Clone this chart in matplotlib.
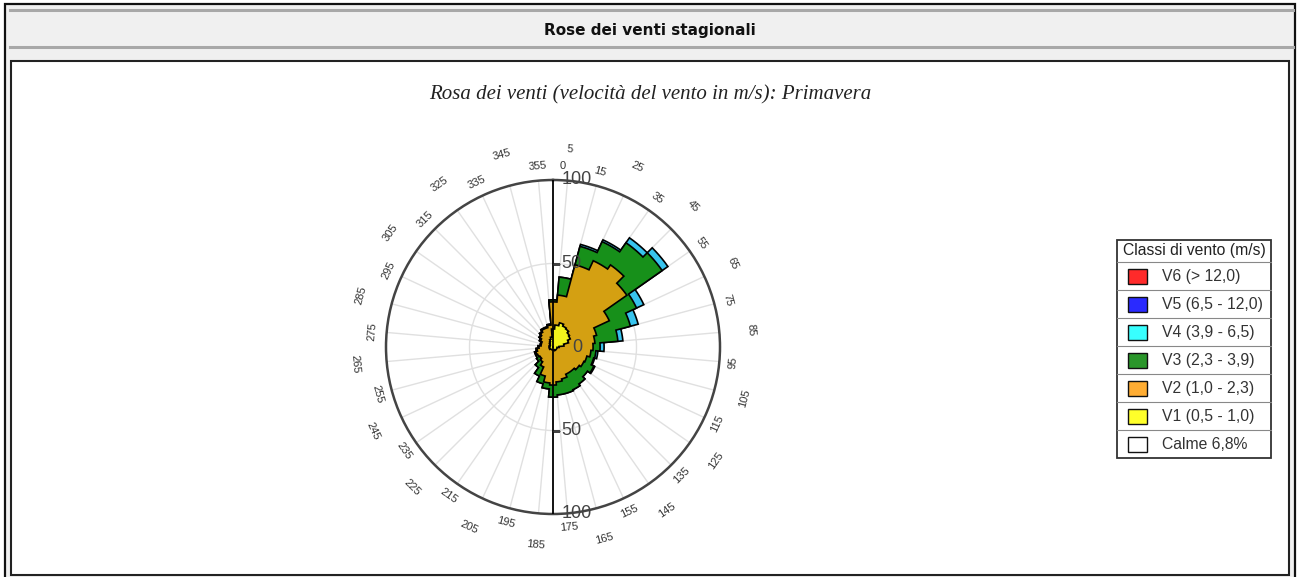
import numpy as np
import matplotlib

matplotlib.use("Agg")
import matplotlib.pyplot as plt
from matplotlib.patches import Rectangle

# sector centres (deg, clockwise from north) and class frequencies per sector
DIRS = np.arange(0, 360, 10)
V1 = [10.8, 13.2, 15.0, 13.8, 13.2, 12.0, 11.4, 9.6, 6.6, 3.6, 2.4, 2.4,
      2.4, 2.4, 2.4, 2.4, 1.8, 1.8, 1.8, 1.8, 1.8, 1.8, 1.8, 1.8,
      2.4, 2.4, 2.4, 2.4, 1.8, 1.8, 2.4, 2.4, 3.0, 3.6, 4.8, 6.0]
V2 = [16.2, 18.0, 36.0, 43.2, 46.8, 42.0, 25.8, 17.4, 18.6, 20.4, 20.4, 18.6,
      18.0, 16.8, 15.6, 15.6, 18.0, 19.2, 21.0, 19.8, 16.2, 11.4, 9.0, 7.8,
      7.8, 8.4, 7.2, 6.0, 5.4, 5.4, 6.0, 7.2, 7.8, 8.4, 7.2, 7.2]
V3 = [1.2, 10.8, 11.4, 12.6, 16.2, 25.8, 18.0, 21.0, 13.8, 4.2, 3.0, 4.2,
      6.6, 6.0, 9.0, 10.2, 9.0, 7.8, 7.2, 3.6, 4.8, 6.0, 4.2, 2.4,
      1.2, 0.6, 0.6, 0.6, 0.6, 0.6, 0.6, 0.6, 0.6, 0.6, 0.6, 0.6]
V4 = [0.0, 0.0, 1.2, 1.2, 3.6, 4.2, 4.8, 4.8, 3.0, 2.4, 1.2, 0.6,
      0.6, 0.0, 0.0, 0.0, 0.0, 0.0, 0.0, 0.0, 0.0, 0.0, 0.0, 0.0,
      0.0, 0.0, 0.0, 0.0, 0.0, 0.0, 0.0, 0.0, 0.0, 0.0, 0.0, 0.0]

ROSE_COLORS = ["#f2f21c", "#d4a012", "#17901a", "#38c4ee"]

LEGEND_TITLE = "Classi di vento (m/s)"
LEGEND_LABELS = ["V6 (> 12,0)", "V5 (6,5 - 12,0)", "V4 (3,9 - 6,5)",
                 "V3 (2,3 - 3,9)", "V2 (1,0 - 2,3)", "V1 (0,5 - 1,0)",
                 "Calme 6,8%"]
LEGEND_COLORS = ["#ff2a2a", "#2a2aff", "#38ffff", "#2a962a", "#ffad33",
                 "#ffff2a", "#ffffff"]

COMPASS = np.arange(5, 360, 10)
RADIAL_TICKS = [(0, 100, "100"), (0, 50, "50"), (0, 0, "0"),
                (180, 50, "50"), (180, 100, "100")]

HEADER = "Rose dei venti stagionali"
TITLE = "Rosa dei venti (velocità del vento in m/s): Primavera"

W, H = 1301, 577
fig = plt.figure(figsize=(W / 100, H / 100), dpi=100)

# page frame drawn in pixel coordinates
bg = fig.add_axes([0, 0, 1, 1])
bg.set_xlim(0, W)
bg.set_ylim(H, 0)
bg.axis("off")
bg.add_patch(Rectangle((5, 4), 1290, 590, facecolor="#f0f0f0",
                       edgecolor="#111111", lw=1.6))
bg.plot([10, 1293], [10, 10], color="#a8a8a8", lw=2.2)
bg.plot([10, 1293], [47, 47], color="#a8a8a8", lw=2.2)
bg.add_patch(Rectangle((11, 61), 1278, 514, facecolor="white",
                       edgecolor="#222222", lw=1.5))
bg.text(650, 30, HEADER, ha="center", va="center", fontsize=11,
        fontweight="bold", family="DejaVu Sans", color="#111111")
bg.text(650, 95, TITLE, ha="center", va="center", fontsize=15,
        style="italic", family="Liberation Serif", color="#222222")

# legend
lx, ly, lw_, row = 1117, 240, 154, 28
bg.add_patch(Rectangle((lx, ly), lw_, 22 + row * len(LEGEND_LABELS),
                       facecolor="white", edgecolor="#333333", lw=1.3))
bg.text(lx + lw_ / 2, ly + 11, LEGEND_TITLE, ha="center", va="center",
        fontsize=11.3, family="Liberation Sans", color="#222222")
for i, (lab, col) in enumerate(zip(LEGEND_LABELS, LEGEND_COLORS)):
    top = ly + 22 + i * row
    bg.plot([lx, lx + lw_], [top, top], color="#888888", lw=0.8)
    bg.add_patch(Rectangle((lx + 11, top + 7), 19, 15, facecolor=col,
                           edgecolor="#111111", lw=1))
    bg.text(lx + 45, top + row / 2 + 0.5, lab, ha="left", va="center",
            fontsize=11.3, family="Liberation Sans", color="#333333")

# wind rose
cx, cy, R = 553, 347, 167
ax = fig.add_axes([(cx - R) / W, (H - cy - R) / H, 2 * R / W, 2 * R / H],
                  projection="polar")
ax.set_facecolor("none")
ax.set_theta_zero_location("N")
ax.set_theta_direction(-1)
ax.set_ylim(0, 100)
ax.set_xticks(np.deg2rad(COMPASS))
ax.set_xticklabels([])
ax.set_yticks([50])
ax.set_yticklabels([])
ax.tick_params(axis="x", direction="in", length=6, color="#444444", width=1.2)
ax.tick_params(axis="y", length=0)
ax.grid(True, color="#e0e0e0", lw=1)
ax.set_axisbelow(True)
ax.spines["polar"].set_color("#444444")
ax.spines["polar"].set_linewidth(1.8)

cum = np.zeros(len(DIRS))
stacks = []
for vals in (V1, V2, V3, V4):
    cum = cum + np.array(vals)
    stacks.append(cum.copy())
for k in range(len(stacks) - 1, -1, -1):
    th, rr = [], []
    for d, r in zip(DIRS, stacks[k]):
        arc = np.linspace(d - 5, d + 5, 6)
        th.extend(arc)
        rr.extend([r] * len(arc))
    ax.fill(np.deg2rad(th), rr, facecolor=ROSE_COLORS[k], edgecolor="black",
            lw=1.2, zorder=2 + (3 - k) * 0.1)

ax.plot([0, 0], [0, 100], color="black", lw=1.3, zorder=5)
ax.plot([np.pi, np.pi], [0, 100], color="black", lw=1.3, zorder=5)
for ang, r, lab in RADIAL_TICKS:
    if r == 50:
        ax.plot(np.deg2rad(ang), r, marker=1, ms=5, color="#444444", zorder=6)
    dx = 14 if r == 0 else 6
    ax.annotate(lab, (np.deg2rad(ang), r), xytext=(dx, 0),
                textcoords="offset points", ha="left", va="center",
                fontsize=13, color="#444444", family="Liberation Sans",
                zorder=7, annotation_clip=False)

for i, a in enumerate(COMPASS):
    rad = 119 if i % 2 == 0 else 108.5
    rot = -a if (a < 90 or a > 270) else 180 - a
    ax.text(np.deg2rad(a), rad, str(a), rotation=rot, ha="center",
            va="center", rotation_mode="anchor", fontsize=8,
            color="#333333", family="Liberation Sans", clip_on=False)
ax.text(np.deg2rad(3), 108.5, "0", ha="center", va="center", fontsize=8,
        color="#333333", family="Liberation Sans", clip_on=False)

fig.savefig("out.png", dpi=100)
